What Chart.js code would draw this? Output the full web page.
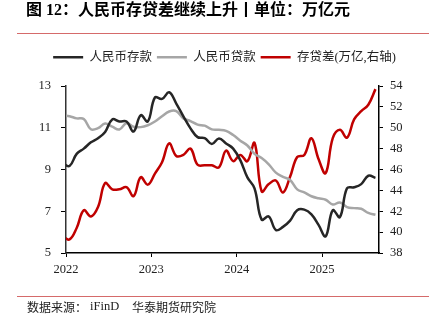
<!DOCTYPE html>
<html><head><meta charset="utf-8">
<script src="https://cdn.jsdelivr.net/npm/chart.js@4.4.0/dist/chart.umd.min.js"></script>
<style>
html,body{margin:0;padding:0;background:#fff;}
#wrap{position:relative;width:436px;height:322px;overflow:hidden;background:#fff;}
#c{position:absolute;left:0;top:0;width:436px;height:322px;}
.title{position:absolute;left:26px;top:1px;font:bold 16px/18px "Liberation Serif","Noto Sans CJK SC";color:#000;white-space:nowrap;}
.rule{position:absolute;left:17px;width:412px;height:1px;background:#d56a6a;}
.src{position:absolute;top:299px;font:12px/15px "Noto Sans CJK SC";color:#222;white-space:nowrap;}
</style></head><body>
<div id="wrap">
<canvas id="c" width="436" height="322"></canvas>
<div class="title">图 12：人民币存贷差继续上升丨单位：万亿元</div>
<div class="rule" style="top:33px"></div>
<div class="rule" style="top:296px"></div>
<div class="src" style="left:27px">数据来源：</div>
<div class="src" style="left:90px;font-family:'Liberation Serif';font-size:12.5px">iFinD</div>
<div class="src" style="left:132px">华泰期货研究院</div>
</div>
<script>
const months = [
 '2021-12',
 '2022-01','2022-02','2022-03','2022-04','2022-05','2022-06','2022-07','2022-08','2022-09','2022-10','2022-11','2022-12',
 '2023-01','2023-02','2023-03','2023-04','2023-05','2023-06','2023-07','2023-08','2023-09','2023-10','2023-11','2023-12',
 '2024-01','2024-02','2024-03','2024-04','2024-05','2024-06','2024-07','2024-08','2024-09','2024-10','2024-11','2024-12',
 '2025-01','2025-02','2025-03','2025-04','2025-05','2025-06','2025-07','2025-08'
];
// 人民币存款同比(%)
const deposits = [
 9.3,
 9.17, 9.75, 10.0, 10.3, 10.5, 10.8, 11.4, 11.3, 11.3, 10.82, 11.6, 11.3,
 12.45, 12.38, 12.7, 12.16, 11.55, 10.97, 10.55, 10.5, 10.22, 10.49, 10.25, 10.0,
 9.45, 8.62, 8.1, 6.6, 6.75, 6.1, 6.25, 6.55, 7.05, 7.08, 6.85, 6.35,
 5.8, 7.05, 6.72, 8.1, 8.15, 8.3, 8.7, 8.6
];
// 人民币贷款同比(%)
const loans = [
 11.6,
 11.55, 11.45, 11.42, 10.93, 10.98, 11.2, 11.05, 10.92, 11.22, 11.05, 11.03, 11.12,
 11.3, 11.55, 11.78, 11.8, 11.45, 11.32, 11.15, 11.1, 10.92, 10.9, 10.85, 10.65,
 10.38, 10.15, 9.75, 9.55, 9.25, 8.85, 8.65, 8.5, 8.05, 7.9, 7.72, 7.62,
 7.55, 7.32, 7.42, 7.2, 7.15, 7.12, 6.92, 6.83
];
// 存贷差(万亿元, 右轴)
const gap = [
 39.6,
 39.3, 40.4, 42.1, 41.5, 42.4, 44.7, 44.1, 44.1, 44.3, 43.45, 45.25, 44.55,
 45.6, 46.7, 48.5, 47.3, 47.4, 48.0, 46.45, 46.4, 46.4, 46.2, 47.8, 46.8,
 47.4, 46.8, 48.55, 43.9, 44.6, 44.95, 43.8, 45.3, 47.2, 47.4, 49.0, 47.0,
 45.65, 49.0, 49.8, 49.05, 50.8, 51.6, 52.2, 53.7
];
const yearTicks = [2022, 2023, 2024, 2025];
const seriesNames = ['人民币存款', '人民币贷款', '存贷差(万亿,右轴)'];

// mid-month position of each observation on a time-in-years axis
const toX = m => { const [y, mo] = m.split('-').map(Number); return y + (mo - 0.5) / 12; };
const pts = arr => months.map((m, i) => ({ x: toX(m), y: arr[i] }));

const serif = "'Liberation Serif', 'Noto Sans CJK SC'";

const legendGap = {
  id: 'legendGap',
  afterInit(chart) {
    const lg = chart.legend;
    if (!lg) return;
    const f = lg.fit;
    lg.fit = function () { f.call(this); this.height += 12.5; };
  }
};

const mk = (label, data, color, axis) => ({
  label, data, yAxisID: axis,
  borderColor: color, backgroundColor: color,
  borderWidth: 2.5, pointRadius: 0, pointHoverRadius: 0,
  tension: 0.4, fill: false
});

new Chart(document.getElementById('c'), {
  type: 'line',
  data: {
    datasets: [
      mk(seriesNames[0], pts(deposits), '#262626', 'y'),
      mk(seriesNames[1], pts(loans), '#a6a6a6', 'y'),
      mk(seriesNames[2], pts(gap), '#c00000', 'y1')
    ]
  },
  options: {
    responsive: false,
    devicePixelRatio: 1,
    animation: false,
    layout: { padding: { top: 46, left: 13, right: 0, bottom: 45 } },
    plugins: {
      tooltip: { enabled: false },
      legend: {
        position: 'top',
        labels: {
          boxWidth: 30, boxHeight: 2.5, padding: 5, color: '#222',
          font: { family: serif, size: 12.5 },
          generateLabels(chart) {
            const items = Chart.defaults.plugins.legend.labels.generateLabels(chart);
            items.forEach(it => { it.lineWidth = 0; });
            return items;
          }
        }
      }
    },
    scales: {
      x: {
        type: 'linear',
        min: yearTicks[0],
        max: 2025 + 8 / 12,
        afterBuildTicks: s => { s.ticks = yearTicks.map(v => ({ value: v })); },
        afterFit: s => { s.height = 24; },
        ticks: { callback: v => String(v), color: '#222', padding: 5, maxRotation: 0,
                 font: { family: serif, size: 12.5 } },
        grid: { drawOnChartArea: false, drawTicks: true, tickLength: 4, color: '#000', lineWidth: 1 },
        border: { display: true, color: '#000', width: 1.5 }
      },
      y: {
        position: 'left', min: 5, max: 13,
        afterFit: s => { s.width = 53; },
        ticks: { stepSize: 2, color: '#222', padding: 10, font: { family: serif, size: 12.5 } },
        grid: { drawOnChartArea: false, drawTicks: true, tickLength: 5, color: '#000', lineWidth: 1 },
        border: { display: true, color: '#333', width: 1.5 }
      },
      y1: {
        position: 'right', min: 38, max: 54,
        afterFit: s => { s.width = 57; },
        ticks: { stepSize: 2, color: '#222', padding: 7, font: { family: serif, size: 12.5 } },
        grid: { drawOnChartArea: false, drawTicks: true, tickLength: 4, color: '#000', lineWidth: 1 },
        border: { display: true, color: '#000', width: 1.5 }
      }
    }
  },
  plugins: [legendGap]
});
</script>
</body></html>
